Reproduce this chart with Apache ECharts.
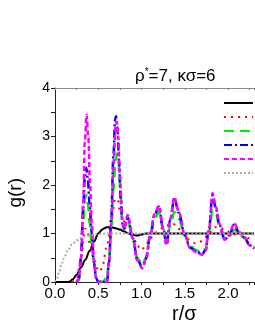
<!DOCTYPE html>
<html><head><meta charset="utf-8">
<script src="https://cdn.jsdelivr.net/npm/echarts@6/dist/echarts.min.js"></script>
<style>html,body{margin:0;padding:0;background:#fff}#c{width:255px;height:330px}</style>
</head><body><div id="c"></div>
<script>
var xTicks = [0, 0.5, 1.0, 1.5, 2.0];
var yTicks = [0, 1, 2, 3, 4];
var seriesNames = ['s1', 's2', 's3', 's4', 's5', 's6'];

var blackCurve = [[0,0],[0.15,0],[0.175,0.01],[0.2,0.05],[0.25,0.15],[0.3,0.3],[0.35,0.46],[0.4,0.64],[0.45,0.83],[0.5,1.0],[0.55,1.09],[0.6,1.13],[0.65,1.13],[0.7,1.11],[0.75,1.08],[0.8,1.04],[0.85,1.0],[0.9,0.97],[0.95,0.96],[1.0,0.98],[1.05,1.0],[1.1,1.0],[1.5,1.0],[2.0,1.0],[2.3,1.0]];

var redCurve = [[0.2,0],[0.25,0.05],[0.3,0.5],[0.35,1.1],[0.375,1.05],[0.4,0.8],[0.45,0.45],[0.5,0.25],[0.525,0.22],[0.55,0.35],[0.6,0.75],[0.65,1.3],[0.7,1.72],[0.725,1.7],[0.75,1.45],[0.8,1.25],[0.84,1.3],[0.9,1.0],[0.95,0.75],[1.0,0.66],[1.05,0.75],[1.1,0.9],[1.15,1.0],[1.2,1.07],[1.25,1.12],[1.3,1.17],[1.36,1.21],[1.42,1.12],[1.47,1.0],[1.52,0.9],[1.57,0.84],[1.62,0.8],[1.67,0.82],[1.72,0.88],[1.78,1.02],[1.85,1.13],[1.9,1.12],[1.95,1.1],[2.02,1.03],[2.08,0.98],[2.14,0.95],[2.2,0.92],[2.25,0.9],[2.3,0.9]];

var greenCurve = [[0.25,0],[0.275,0.05],[0.3,0.45],[0.325,1.2],[0.345,1.7],[0.36,1.8],[0.38,1.6],[0.4,1.2],[0.425,0.75],[0.45,0.35],[0.475,0.1],[0.5,0.02],[0.55,0],[0.6,0.1],[0.625,0.45],[0.65,1.1],[0.675,1.9],[0.7,2.5],[0.718,2.65],[0.735,2.45],[0.755,1.9],[0.78,1.25],[0.8,1.1],[0.84,1.28],[0.9,0.9],[0.95,0.5],[1.01,0.35],[1.05,0.5],[1.1,0.95],[1.15,1.3],[1.2,1.45],[1.25,1.1],[1.29,0.8],[1.33,1.15],[1.38,1.45],[1.43,1.3],[1.5,0.95],[1.56,0.75],[1.63,0.66],[1.7,0.6],[1.74,0.68],[1.78,1.05],[1.82,1.48],[1.86,1.42],[1.9,1.15],[1.96,0.9],[2.01,0.95],[2.07,1.07],[2.13,1.02],[2.19,0.9],[2.25,0.78],[2.3,0.72]];

var blueCurve = [[0.25,0],[0.275,0.05],[0.3,0.5],[0.325,1.5],[0.345,2.15],[0.362,2.35],[0.38,2.1],[0.4,1.6],[0.425,1.0],[0.45,0.4],[0.475,0.08],[0.5,0],[0.6,0],[0.625,0.4],[0.65,1.3],[0.675,2.6],[0.695,3.35],[0.705,3.42],[0.72,3.2],[0.74,2.5],[0.76,1.7],[0.78,1.2],[0.8,1.1],[0.84,1.33],[0.9,0.9],[0.95,0.47],[1.01,0.3],[1.05,0.47],[1.1,0.95],[1.15,1.38],[1.2,1.55],[1.25,1.1],[1.29,0.77],[1.33,1.28],[1.38,1.72],[1.43,1.43],[1.5,0.97],[1.56,0.71],[1.63,0.63],[1.7,0.57],[1.74,0.66],[1.78,1.1],[1.82,1.78],[1.86,1.52],[1.9,1.18],[1.96,0.88],[2.01,0.94],[2.07,1.18],[2.13,1.02],[2.19,0.92],[2.25,0.76],[2.3,0.69]];

var magentaCurve = [[0.25,0],[0.275,0.05],[0.3,0.5],[0.325,1.6],[0.345,2.9],[0.365,3.45],[0.385,3.0],[0.405,2.0],[0.425,1.2],[0.45,0.45],[0.475,0.08],[0.5,0],[0.6,0],[0.625,0.4],[0.65,1.2],[0.675,2.4],[0.7,3.2],[0.715,3.3],[0.73,3.0],[0.75,2.2],[0.775,1.3],[0.8,1.1],[0.84,1.38],[0.9,0.9],[0.95,0.45],[1.01,0.28],[1.05,0.45],[1.1,0.95],[1.15,1.4],[1.2,1.57],[1.25,1.1],[1.29,0.76],[1.33,1.3],[1.38,1.75],[1.43,1.45],[1.5,0.97],[1.56,0.7],[1.63,0.62],[1.7,0.56],[1.74,0.65],[1.78,1.1],[1.82,1.83],[1.86,1.55],[1.9,1.2],[1.96,0.87],[2.01,0.95],[2.07,1.21],[2.13,1.03],[2.19,0.93],[2.25,0.76],[2.3,0.68]];

var grayCurve = [[0,0],[0.025,0.08],[0.05,0.22],[0.075,0.36],[0.1,0.48],[0.15,0.66],[0.2,0.78],[0.25,0.86],[0.3,0.91],[0.35,0.94],[0.4,0.96],[0.5,0.99],[0.6,1.0],[1.0,1.0],[1.5,1.0],[2.0,1.0],[2.3,1.0]];

var chart = echarts.init(document.getElementById('c'), null, {renderer: 'canvas'});
var FONT = 'Liberation Sans';
function mk(name, data, color, width, type) {
  return {
    name: name, type: 'line', data: data, showSymbol: false, symbol: 'none',
    smooth: 0.35, smoothMonotone: 'x',
    lineStyle: {color: color, width: width, type: type},
    itemStyle: {color: color}
  };
}
chart.setOption({
  animation: false,
  title: {
    text: 'ρ{s|*}=7, κσ=6', left: 130, top: 62,
    textStyle: {fontFamily: FONT, fontSize: 17, fontWeight: 'normal', color: '#000',
      rich: {s: {fontSize: 10, verticalAlign: 'top', padding: [0, 0, 8, 0], fontFamily: FONT, color: '#000'}}}
  },
  legend: {
    orient: 'vertical', right: -4, top: 93, itemWidth: 29, itemHeight: 10, itemGap: 5,
    itemStyle: {opacity: 0, borderWidth: 0},
    formatter: function () { return ''; }, textStyle: {fontSize: 1},
    data: seriesNames
  },
  graphic: [
    {type: 'text', left: 6, top: 178, rotation: Math.PI / 2, style: {text: 'g(r)', fontFamily: FONT, fontSize: 19, fill: '#000'}},
    {type: 'text', left: 172, top: 304, style: {text: 'r/σ', fontFamily: FONT, fontSize: 20, fill: '#000'}}
  ],
  grid: {left: 55, top: 88, right: 1, bottom: 48, containLabel: false},
  xAxis: [{
    type: 'value', min: 0, max: 2.3, interval: 0.5, position: 'bottom',
    axisLine: {show: true, onZero: false, lineStyle: {color: '#222', width: 1}},
    axisTick: {show: true, inside: false, length: 3, lineStyle: {color: '#222'}},
    minorTick: {show: true, splitNumber: 2, length: 3, lineStyle: {color: '#222'}},
    splitLine: {show: false},
    axisLabel: {formatter: function (v) { return xTicks.indexOf(v) >= 0 ? v.toFixed(1) : ''; }, fontFamily: FONT, fontSize: 15, color: '#000', margin: 4, showMaxLabel: false}
  }, {
    type: 'value', min: 0, max: 2.3, interval: 0.5, position: 'top',
    axisLine: {show: true, onZero: false, lineStyle: {color: '#888', width: 1}},
    axisTick: {show: true, inside: true, length: 2, lineStyle: {color: '#888'}},
    minorTick: {show: true, splitNumber: 2, length: 2, lineStyle: {color: '#888'}},
    splitLine: {show: false}, axisLabel: {show: false}
  }],
  yAxis: {
    type: 'value', min: 0, max: 4, interval: 1,
    axisLine: {show: true, onZero: false, lineStyle: {color: '#222', width: 1}},
    axisTick: {show: true, inside: false, length: 4, lineStyle: {color: '#222'}},
    minorTick: {show: true, splitNumber: 2, length: 4, lineStyle: {color: '#222'}},
    splitLine: {show: false},
    axisLabel: {formatter: function (v) { return yTicks.indexOf(v) >= 0 ? String(v) : ''; }, fontFamily: FONT, fontSize: 14, color: '#000', margin: 5}
  },
  series: [
    mk(seriesNames[0], blackCurve, '#000000', 2, 'solid'),
    mk(seriesNames[1], redCurve, '#ff0000', 2, [2, 5]),
    mk(seriesNames[2], greenCurve, '#00ee00', 2.5, [10, 6]),
    mk(seriesNames[3], blueCurve, '#0000ff', 2.5, [8, 3, 2, 3]),
    mk(seriesNames[4], magentaCurve, '#ff00ff', 2.5, [5, 3]),
    mk(seriesNames[5], grayCurve, '#aaaaaa', 2, [2, 2])
  ]
});
</script></body></html>
